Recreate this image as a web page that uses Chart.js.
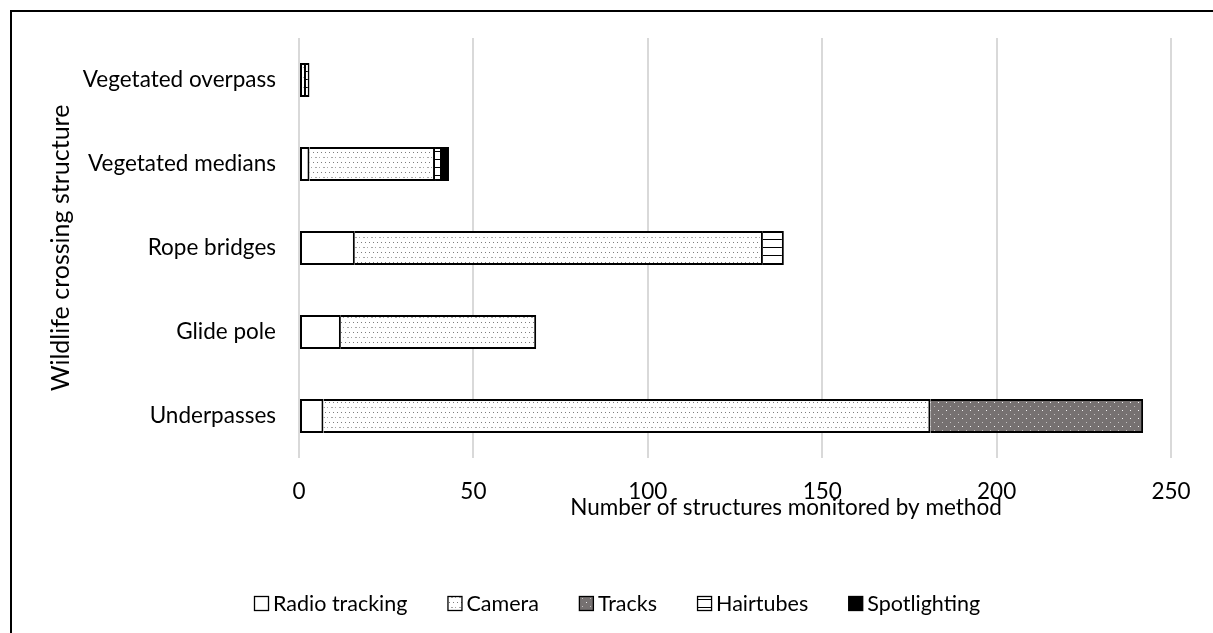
<!DOCTYPE html>
<html>
<head>
<meta charset="utf-8">
<script src="https://cdn.jsdelivr.net/npm/chart.js@4.4.1/dist/chart.umd.min.js"></script>
<style>
  html, body { margin: 0; padding: 0; background: #ffffff; }
  canvas { display: block; }
</style>
</head>
<body>
<canvas id="c" width="1213" height="633"></canvas>
<script>
// Structures monitored, broken down by monitoring method
const structures    = ['Vegetated overpass', 'Vegetated medians', 'Rope bridges', 'Glide pole', 'Underpasses'];
const radioTracking = [0, 3, 16, 12, 7];
const camera        = [2, 36, 117, 56, 174];
const tracks        = [0, 0, 0, 0, 61];
const hairtubes     = [1, 2, 6, 0, 0];
const spotlighting  = [0, 2, 0, 0, 0];
const xTickValues   = [0, 50, 100, 150, 200, 250];

const FONT = 'Lato, "Open Sans", sans-serif';
const canvas = document.getElementById('c');
const ctx = canvas.getContext('2d');

// Small repeating tiles used as fills
function tilePattern(w, h, draw) {
  const t = document.createElement('canvas');
  t.width = w; t.height = h;
  const g = t.getContext('2d');
  draw(g, w, h);
  return ctx.createPattern(t, 'repeat');
}
const cameraFill = tilePattern(8, 10, (g, w, h) => {
  g.fillStyle = '#ffffff'; g.fillRect(0, 0, w, h);
  g.fillStyle = '#7c7c7c';
  g.fillRect(1, 2, 1, 1); g.fillRect(5, 2, 1, 1);
  g.fillStyle = '#a8a8a8';
  g.fillRect(3, 7, 2, 1); g.fillRect(7, 7, 1, 1);
});
const tracksFill = tilePattern(8, 8, (g, w, h) => {
  g.fillStyle = '#767171'; g.fillRect(0, 0, w, h);
  g.fillStyle = '#f2f2f2';
  g.fillRect(2, 2, 1, 1);
  g.fillStyle = '#c4c1c1';
  g.fillRect(6, 6, 1, 1);
});
const hairFill = tilePattern(8, 8, (g, w, h) => {
  g.fillStyle = '#ffffff'; g.fillRect(0, 0, w, h);
  g.fillStyle = '#000000';
  g.fillRect(0, 7, 8, 1);
});

// Skip the left edge of a segment when an earlier segment already drew the divider
const seriesList = [radioTracking, camera, tracks, hairtubes, spotlighting];
function skipEdge(c) {
  const di = c.datasetIndex, i = c.dataIndex;
  for (let k = 0; k < di; k++) if (seriesList[k][i] > 0) return 'start';
  return false;
}

function series(label, data, fill) {
  return {
    label, data,
    backgroundColor: fill,
    borderColor: '#000000',
    borderWidth: 2,
    borderSkipped: skipEdge,
    barPercentage: 0.81,
    categoryPercentage: 0.5
  };
}

// Frame lines, horizontal axis title and the legend row
const decorations = {
  id: 'decorations',
  afterDraw(chart) {
    const g = chart.ctx;
    g.save();
    g.strokeStyle = '#000000';
    g.lineWidth = 2;
    g.beginPath();
    g.moveTo(11, 633); g.lineTo(11, 11); g.lineTo(1213, 11);
    g.stroke();

    g.fillStyle = '#000000';
    g.font = '22.5px ' + FONT;
    g.textAlign = 'center';
    g.textBaseline = 'middle';
    g.fillText('Number of structures monitored by method', 786, 508);

    // legend
    const box = 14, gapText = 5, gapItem = 40, legendY = 603, centerX = 617;
    g.font = '21.5px ' + FONT;
    g.textAlign = 'left';
    const items = chart.data.datasets.map(d => ({ d, w: g.measureText(d.label).width }));
    const total = items.reduce((s, it) => s + box + gapText + it.w, 0) + gapItem * (items.length - 1);
    let x = Math.round(centerX - total / 2);
    items.forEach(it => {
      const bx = x + 0.5, by = Math.round(legendY - box / 2) + 0.5;
      g.fillStyle = it.d.backgroundColor;
      g.fillRect(bx, by, box, box);
      g.lineWidth = 1.3;
      g.strokeStyle = '#000000';
      g.strokeRect(bx, by, box, box);
      g.fillStyle = '#000000';
      g.fillText(it.d.label, x + box + gapText, legendY + 1);
      x += box + gapText + it.w + gapItem;
    });
    g.restore();
  }
};

new Chart(ctx, {
  type: 'bar',
  data: {
    labels: structures,
    datasets: [
      series('Radio tracking', radioTracking, '#ffffff'),
      series('Camera', camera, cameraFill),
      series('Tracks', tracks, tracksFill),
      series('Hairtubes', hairtubes, hairFill),
      series('Spotlighting', spotlighting, '#000000')
    ]
  },
  options: {
    indexAxis: 'y',
    responsive: false,
    animation: false,
    layout: { padding: { left: 0, right: 42, top: 38, bottom: 0 } },
    scales: {
      x: {
        stacked: true,
        min: 0,
        max: 250,
        afterBuildTicks(scale) { scale.ticks = xTickValues.map(v => ({ value: v })); },
        afterFit(scale) { scale.height = 175; },
        grid: { color: '#d9d9d9', lineWidth: 2, drawTicks: false },
        border: { display: false },
        ticks: { color: '#000000', font: { family: FONT, size: 22.5 }, padding: 20 }
      },
      y: {
        stacked: true,
        afterFit(scale) { scale.width = 299; },
        grid: { display: false, drawTicks: false },
        border: { display: false },
        ticks: { color: '#000000', font: { family: FONT, size: 22.5 }, padding: 23 },
        title: {
          display: true,
          text: 'Wildlife crossing structure',
          color: '#000000',
          font: { family: FONT, size: 25 },
          padding: { top: 46, bottom: 0 }
        }
      }
    },
    plugins: {
      tooltip: { enabled: false },
      legend: { display: false }
    }
  },
  plugins: [decorations]
});
</script>
</body>
</html>
